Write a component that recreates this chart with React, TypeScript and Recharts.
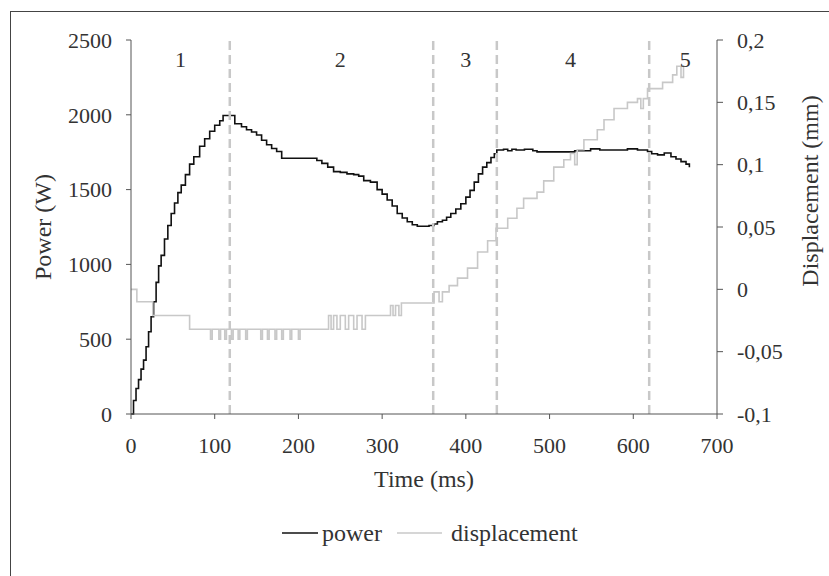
import React from "react";
import {
  ComposedChart,
  Line,
  XAxis,
  YAxis,
  ReferenceLine,
  ReferenceDot,
  Legend,
} from "recharts";

// power trace (ms, W)
const powerTime = [
  0, 3, 6, 9, 12, 15, 18, 21, 24, 27, 30, 33, 36, 40, 44, 48, 52, 56, 60, 65,
  70, 75, 82, 88, 94, 100, 106, 110, 124, 132, 138, 144, 150, 156, 162, 168,
  174, 180, 222, 228, 235, 242, 250, 258, 266, 272, 278, 286, 294, 300, 306,
  312, 318, 324, 330, 336, 342, 350, 356, 362, 366, 372, 377, 382, 388, 394,
  400, 405, 410, 415, 420, 425, 430, 434, 437, 445, 450, 455, 460, 470, 480,
  485, 521, 530, 549, 560, 593, 605, 617, 622, 629, 637, 645, 651, 657, 663,
  667,
];
const powerW = [
  0, 90, 170, 230, 300, 360, 450, 550, 650, 750, 880, 990, 1060, 1170, 1260,
  1340, 1410, 1480, 1530, 1600, 1670, 1720, 1790, 1840, 1890, 1930, 1960, 1995,
  1940, 1920, 1900, 1885, 1865, 1830, 1800, 1775, 1755, 1710, 1695, 1675, 1650,
  1620, 1615, 1605, 1600, 1590, 1560, 1550, 1500, 1470, 1430, 1390, 1340, 1310,
  1285, 1265, 1255, 1255, 1260, 1270, 1285, 1295, 1315, 1340, 1370, 1405, 1450,
  1495, 1550, 1605, 1650, 1680, 1715, 1740, 1765, 1770, 1760, 1770, 1765, 1770,
  1760, 1752, 1752, 1760, 1772, 1765, 1772, 1765, 1755, 1740, 1732, 1745, 1720,
  1705, 1687, 1670, 1650,
];

// displacement trace (ms, mm)
const dispTime = [
  0, 7, 26, 70, 95, 97, 105, 107, 112, 114, 120, 122, 128, 130, 137, 139, 155,
  157, 163, 165, 172, 174, 180, 182, 190, 192, 200, 202, 236, 239, 242, 246,
  250, 256, 260, 266, 270, 276, 280, 310, 313, 316, 320, 323, 362, 368, 372,
  380, 390, 402, 414, 426, 436, 450, 461, 469, 485, 493, 505, 517, 525, 530,
  533, 541, 557, 565, 577, 593, 605, 609, 612, 617, 635, 647, 652, 657, 660,
];
const dispMm = [
  0, -0.01, -0.021, -0.032, -0.04, -0.032, -0.04, -0.032, -0.04, -0.032, -0.04,
  -0.032, -0.04, -0.032, -0.04, -0.032, -0.04, -0.032, -0.04, -0.032, -0.04,
  -0.032, -0.04, -0.032, -0.04, -0.032, -0.04, -0.032, -0.021, -0.032, -0.021,
  -0.032, -0.021, -0.032, -0.021, -0.032, -0.021, -0.032, -0.021, -0.013,
  -0.021, -0.013, -0.021, -0.011, -0.002, -0.01, -0.002, 0.003, 0.009, 0.017,
  0.03, 0.039, 0.049, 0.057, 0.065, 0.073, 0.078, 0.087, 0.098, 0.104, 0.109,
  0.1, 0.112, 0.12, 0.128, 0.136, 0.145, 0.15, 0.153, 0.145, 0.153, 0.161,
  0.166, 0.172, 0.179, 0.17, 0.18,
];

const phaseBounds = [118, 361, 437, 619];
const phaseLabels = ["1", "2", "3", "4", "5"];
const phaseLabelX = [59, 250, 400, 525, 662];

const xTicks = [0, 100, 200, 300, 400, 500, 600, 700];
const powerTicks = [0, 500, 1000, 1500, 2000, 2500];
const dispTicks = [-0.1, -0.05, 0, 0.05, 0.1, 0.15, 0.2];

const powerData = powerTime.map((t, i) => ({ t, power: powerW[i] }));
const dispData = dispTime.map((t, i) => ({ t, displacement: dispMm[i] }));

const FONT = "Liberation Serif, Times New Roman, serif";
const tickStyle = { fontFamily: FONT, fontSize: 22, fill: "#333" };
const axisColor = "#555";

const LegendContent = () => (
  <div
    style={{
      display: "flex",
      alignItems: "center",
      fontFamily: FONT,
      fontSize: 24,
      color: "#333",
      lineHeight: "28px",
    }}
  >
    <svg width={36} height={6}>
      <line x1={0} y1={3} x2={36} y2={3} stroke="#111" strokeWidth={1.5} />
    </svg>
    <span style={{ marginLeft: 4 }}>power</span>
    <svg width={45} height={6} style={{ marginLeft: 15 }}>
      <line x1={0} y1={3} x2={45} y2={3} stroke="#c8c8c8" strokeWidth={1.5} />
    </svg>
    <span style={{ marginLeft: 9 }}>displacement</span>
  </div>
);

export default function App() {
  return (
    <div
      style={{
        position: "absolute",
        left: 0,
        top: 0,
        width: 829,
        height: 576,
        background: "#fff",
        overflow: "hidden",
      }}
    >
      <div
        style={{
          position: "absolute",
          left: 10,
          top: 11,
          width: 840,
          height: 600,
          borderLeft: "1.5px solid #444",
          borderTop: "1.5px solid #444",
        }}
      />
      <div style={{ position: "absolute", left: 0, top: 0 }}>
        <ComposedChart
          width={829}
          height={576}
          margin={{ top: 40, right: 52, left: 71, bottom: 132 }}
          style={{ fontFamily: FONT }}
        >
          <XAxis
            dataKey="t"
            type="number"
            domain={[0, 700]}
            ticks={xTicks}
            allowDataOverflow
            stroke={axisColor}
            tick={tickStyle}
            tickSize={5}
            tickMargin={18}
            height={30}
            label={{
              content: () => (
                <text
                  x={424}
                  y={487}
                  textAnchor="middle"
                  fontFamily={FONT}
                  fontSize={24}
                  fill="#333"
                >
                  Time (ms)
                </text>
              ),
            }}
          />
          <YAxis
            yAxisId="p"
            domain={[0, 2500]}
            ticks={powerTicks}
            stroke={axisColor}
            tick={tickStyle}
            tickSize={5}
            tickMargin={14}
            width={60}
            label={{
              content: () => (
                <text
                  x={51}
                  y={227}
                  textAnchor="middle"
                  transform="rotate(-90 51 227)"
                  fontFamily={FONT}
                  fontSize={24}
                  fill="#333"
                >
                  Power (W)
                </text>
              ),
            }}
          />
          <YAxis
            yAxisId="d"
            orientation="right"
            domain={[-0.1, 0.2]}
            ticks={dispTicks}
            stroke={axisColor}
            tick={tickStyle}
            tickSize={6}
            tickMargin={14}
            width={60}
            tickFormatter={(v: number) => String(v).replace(".", ",")}
            label={{
              content: () => (
                <text
                  x={818}
                  y={191}
                  textAnchor="middle"
                  transform="rotate(-90 818 191)"
                  fontFamily={FONT}
                  fontSize={24}
                  fill="#333"
                >
                  Displacement (mm)
                </text>
              ),
            }}
          />
          <Line
            yAxisId="p"
            data={powerData}
            dataKey="power"
            name="power"
            type="stepAfter"
            stroke="#111"
            strokeWidth={1.6}
            dot={false}
            isAnimationActive={false}
          />
          <Line
            yAxisId="d"
            data={dispData}
            dataKey="displacement"
            name="displacement"
            type="stepAfter"
            stroke="#c8c8c8"
            strokeWidth={1.6}
            dot={false}
            isAnimationActive={false}
          />
          {phaseBounds.map((x) => (
            <ReferenceLine
              key={x}
              x={x}
              yAxisId="p"
              stroke="#c8c8c8"
              strokeWidth={2.5}
              strokeDasharray="9 5"
            />
          ))}
          {phaseLabels.map((lab, i) => (
            <ReferenceDot
              key={lab}
              x={phaseLabelX[i]}
              y={2370}
              yAxisId="p"
              r={0}
              fill="none"
              stroke="none"
              label={{
                value: lab,
                position: "center",
                fontFamily: FONT,
                fontSize: 22,
                fill: "#333",
              }}
            />
          ))}
          <Legend
            layout="horizontal"
            verticalAlign="middle"
            align="center"
            wrapperStyle={{ top: 519, left: 282, width: 330 }}
            content={LegendContent}
          />
        </ComposedChart>
      </div>
    </div>
  );
}
